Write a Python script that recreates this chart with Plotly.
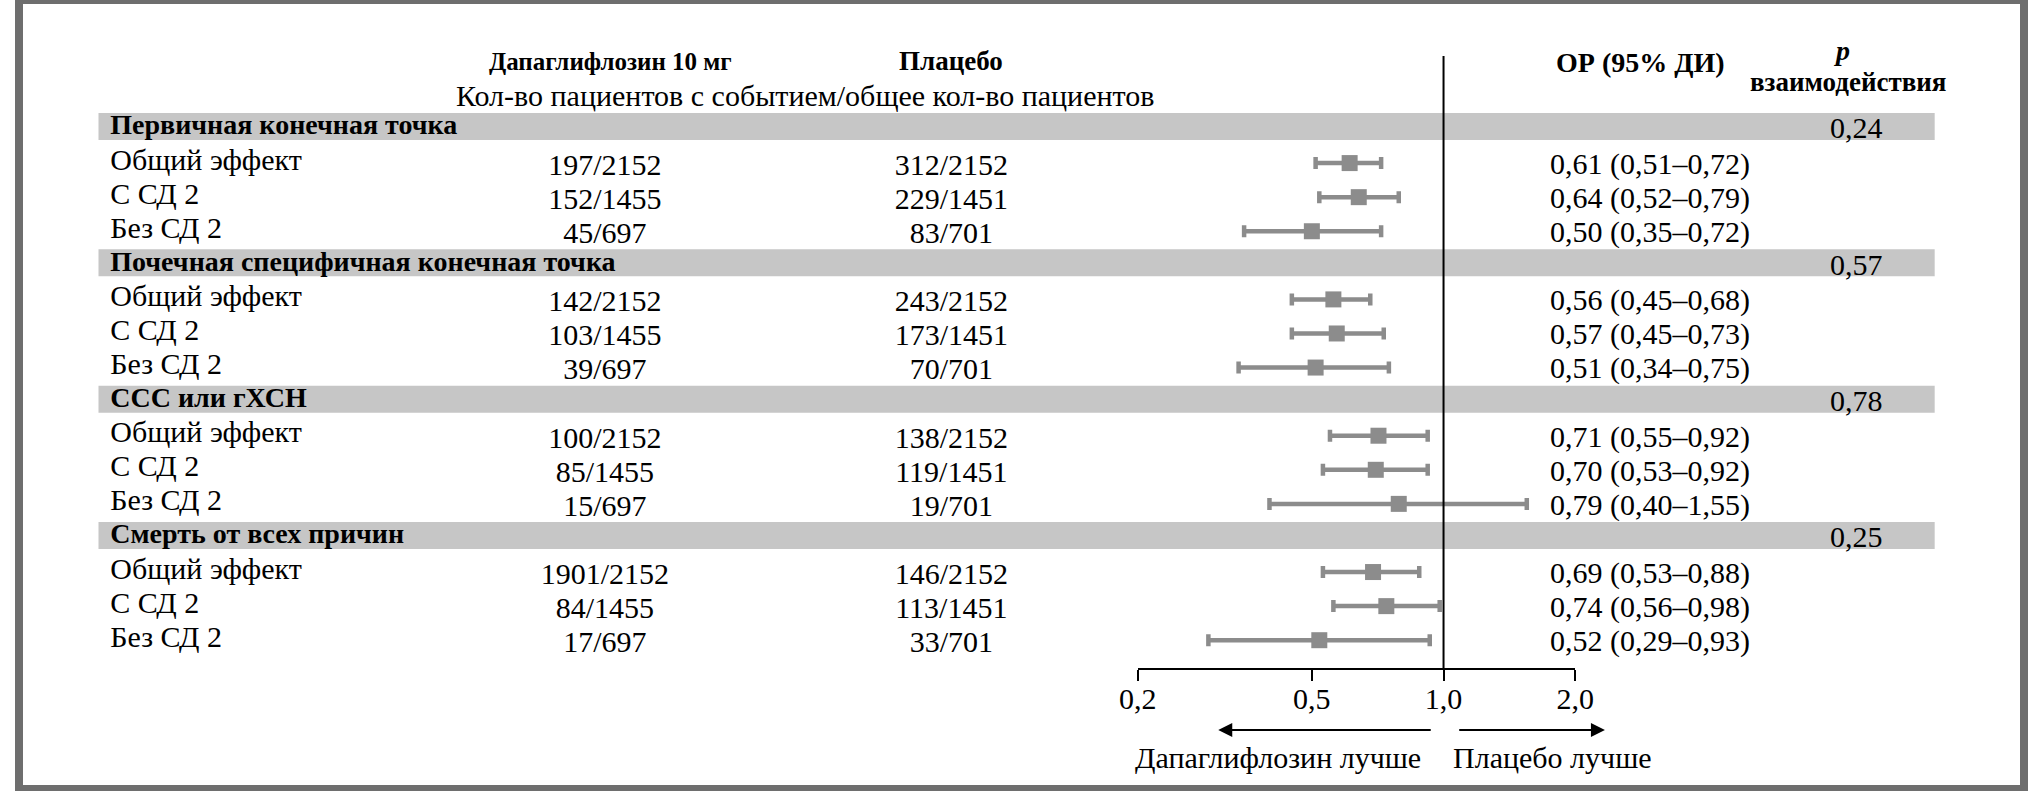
import plotly.graph_objects as go
import numpy as np

# ---------------- data ----------------
sections = ["Первичная конечная точка", "Почечная специфичная конечная точка",
            "ССС или гХСН", "Смерть от всех причин"]
p_values = ["0,24", "0,57", "0,78", "0,25"]
subgroups = ["Общий эффект", "С СД 2", "Без СД 2"]

dapa_counts = ["197/2152", "152/1455", "45/697",
               "142/2152", "103/1455", "39/697",
               "100/2152", "85/1455", "15/697",
               "1901/2152", "84/1455", "17/697"]
placebo_counts = ["312/2152", "229/1451", "83/701",
                  "243/2152", "173/1451", "70/701",
                  "138/2152", "119/1451", "19/701",
                  "146/2152", "113/1451", "33/701"]
hr = [0.61, 0.64, 0.50, 0.56, 0.57, 0.51, 0.71, 0.70, 0.79, 0.69, 0.74, 0.52]
ci_lo = [0.51, 0.52, 0.35, 0.45, 0.45, 0.34, 0.55, 0.53, 0.40, 0.53, 0.56, 0.29]
ci_hi = [0.72, 0.79, 0.72, 0.68, 0.73, 0.75, 0.92, 0.92, 1.55, 0.88, 0.98, 0.93]

tick_vals = [0.2, 0.5, 1.0, 2.0]
tick_text = ["0,2", "0,5", "1,0", "2,0"]

# ---------------- layout helpers ----------------
W, H = 2043, 791
Y0, DY = 129.0, 34.08          # pixel of row 0 and row pitch
def r_of(py):
    return (py - Y0) / DY

FONT = "Liberation Serif, Times New Roman, serif"
FS = 30
FSB = 27
GRAY_MARK = "#8c8c8c"
BAND = "#c6c6c6"

def fmt(v):
    return f"{v:.2f}".replace(".", ",")

band_rows = [4 * i for i in range(len(sections))]
data_rows = [4 * i + j + 1 for i in range(len(sections)) for j in range(3)]
labels = [subgroups[j] for i in range(len(sections)) for j in range(3)]
or_text = [f"{fmt(h)} ({fmt(l)}–{fmt(u)})" for h, l, u in zip(hr, ci_lo, ci_hi)]

fig = go.Figure()

# forest markers
fig.add_trace(go.Scatter(
    x=hr, y=data_rows, mode="markers",
    marker=dict(symbol="square", size=16, color=GRAY_MARK),
    error_x=dict(type="data", symmetric=False,
                 array=[u - h for h, u in zip(hr, ci_hi)],
                 arrayminus=[h - l for h, l in zip(hr, ci_lo)],
                 color=GRAY_MARK, thickness=4.5, width=6),
    xaxis="x", yaxis="y", showlegend=False, hoverinfo="skip"))

def text_trace(xs, ys, texts, pos, bold=False, size=FS):
    t = [f"<b>{s}</b>" for s in texts] if bold else texts
    fig.add_trace(go.Scatter(
        x=xs, y=ys, text=t, mode="text", textposition=pos,
        textfont=dict(family=FONT, size=size, color="black"),
        xaxis="x2", yaxis="y", showlegend=False, hoverinfo="skip"))

# subgroup labels
text_trace([93] * len(labels), [r - 0.03 for r in data_rows], labels, "middle right")
# section titles
text_trace([93] * len(sections), [r - 0.05 for r in band_rows], sections, "middle right",
           bold=True, size=28)
# counts
text_trace([597] * len(dapa_counts), [r + 0.13 for r in data_rows], dapa_counts, "middle center")
text_trace([950] * len(placebo_counts), [r + 0.13 for r in data_rows], placebo_counts, "middle center")
# OR text
text_trace([1560] * len(or_text), [r + 0.1 for r in data_rows], or_text, "middle right")
# p-values
text_trace([1872] * len(p_values), [r + 0.05 for r in band_rows], p_values, "middle center")

# headers
headers = [
    (603, 61, "<b>Дапаглифлозин 10 мг</b>", FSB - 2),
    (950, 61, "<b>Плацебо</b>", FSB),
    (801, 95, "Кол-во пациентов с событием/общее кол-во пациентов", FS),
    (1652, 62, "<b>ОР (95% ДИ)</b>", FSB + 1),
    (1858, 50, "<b><i>p</i></b>", FSB + 1),
    (1864, 82, "<b>взаимодействия</b>", FSB),
    (1283, 757, "Дапаглифлозин лучше", FS),
    (1563, 757, "Плацебо лучше", FS),
]
annotations = []
for x, y, t, s in headers:
    annotations.append(dict(x=x, y=r_of(y), xref="x2", yref="y", text=t,
                            showarrow=False, xanchor="center", yanchor="middle",
                            font=dict(family=FONT, size=s, color="black")))
# arrows
for (xh, xt) in [(1222, 1440), (1616, 1466)]:
    annotations.append(dict(x=xh, y=r_of(730), ax=xt, ay=r_of(730),
                            xref="x2", yref="y", axref="x2", ayref="y",
                            text="", showarrow=True, arrowhead=2, arrowsize=1.4,
                            arrowwidth=2, arrowcolor="black"))

shapes = []
# gray bands
for r in band_rows:
    shapes.append(dict(type="rect", xref="x2", yref="y", x0=81, x1=1952,
                       y0=r_of(113) + r, y1=r_of(140) + r, fillcolor=BAND, line_width=0,
                       layer="below"))
# vertical reference line at 1
shapes.append(dict(type="line", xref="x", yref="y", x0=1, x1=1,
                   y0=r_of(56), y1=r_of(669), line=dict(color="black", width=2)))
# outer frame
shapes.append(dict(type="rect", xref="paper", yref="paper", x0=0, x1=1, y0=0, y1=1,
                   line=dict(color="#6e6e6e", width=8), fillcolor="rgba(0,0,0,0)"))
shapes.append(dict(type="rect", xref="paper", yref="paper", x0=0, x1=1, y0=0, y1=6 / H,
                   line_width=0, fillcolor="#6e6e6e"))

x_lo, x_hi = 1140.0, 1585.7
fig.update_layout(
    width=W, height=H, margin=dict(l=0, r=0, t=0, b=0),
    paper_bgcolor="white", plot_bgcolor="rgba(0,0,0,0)",
    font=dict(family=FONT, size=FS, color="black"),
    xaxis=dict(type="log", domain=[x_lo / W, x_hi / W],
               range=[np.log10(0.2), np.log10(2.0)],
               anchor="free", position=1 - 669 / H,
               showline=True, linecolor="black", linewidth=2,
               ticks="outside", ticklen=11, tickwidth=2, tickcolor="black",
               ticklabelstandoff=-8,
               tickvals=tick_vals, ticktext=tick_text,
               tickfont=dict(family=FONT, size=FS, color="black"),
               showgrid=False, zeroline=False, fixedrange=True),
    xaxis2=dict(range=[0, W], domain=[0, 1], anchor="y",
                visible=False, showgrid=False, zeroline=False),
    yaxis=dict(range=[r_of(H), r_of(0)], domain=[0, 1], visible=False,
               showgrid=False, zeroline=False),
    shapes=shapes, annotations=annotations,
)

css_fix = ("document.documentElement.style.margin='0';"
           "document.documentElement.style.padding='0';"
           "document.documentElement.style.overflow='hidden';"
           "document.body.style.margin='0';"
           "document.body.style.padding='0';"
           "document.body.style.overflow='hidden';")
fig.write_html("out.html", config={"displayModeBar": False}, post_script=css_fix)
